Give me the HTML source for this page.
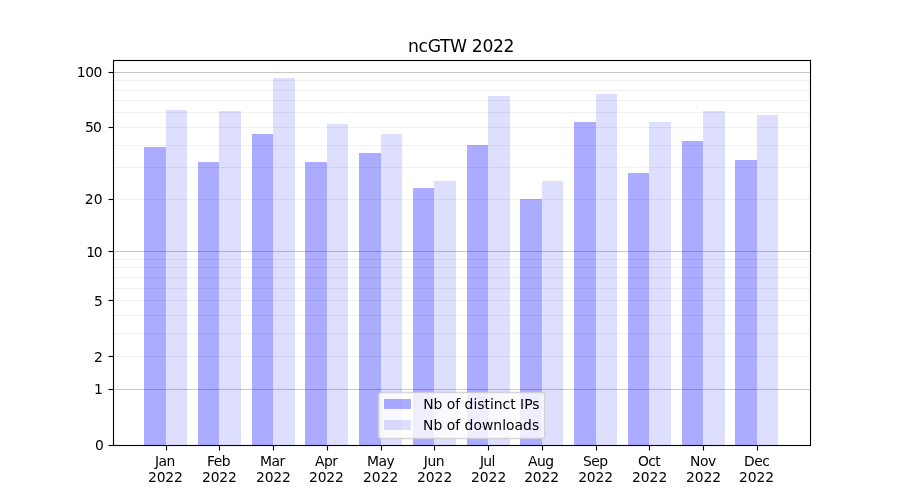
<!DOCTYPE html>
<html lang="en"><head><meta charset="utf-8"><title>ncGTW 2022</title>
<style>html,body{margin:0;padding:0;background:#fff}body{width:900px;height:500px;overflow:hidden}svg{display:block}text{font-family:'DejaVu Sans', 'Liberation Sans', sans-serif;fill:#000}</style></head><body>
<svg width="900" height="500" viewBox="0 0 900 500">
<rect x="0" y="0" width="900" height="500" fill="#ffffff"/>
<g shape-rendering="crispEdges">
<g fill="#0000ff" fill-opacity="0.33">
<rect x="144" y="147" width="22" height="298"/>
<rect x="198" y="162" width="21" height="283"/>
<rect x="252" y="134" width="21" height="311"/>
<rect x="305" y="162" width="22" height="283"/>
<rect x="359" y="153" width="22" height="292"/>
<rect x="413" y="188" width="21" height="257"/>
<rect x="467" y="145" width="21" height="300"/>
<rect x="520" y="199" width="22" height="246"/>
<rect x="574" y="122" width="22" height="323"/>
<rect x="628" y="173" width="21" height="272"/>
<rect x="682" y="141" width="21" height="304"/>
<rect x="735" y="160" width="22" height="285"/>
</g>
<g fill="#0000ff" fill-opacity="0.13">
<rect x="166" y="110" width="21" height="335"/>
<rect x="219" y="111" width="22" height="334"/>
<rect x="273" y="78" width="22" height="367"/>
<rect x="327" y="124" width="21" height="321"/>
<rect x="381" y="134" width="21" height="311"/>
<rect x="434" y="181" width="22" height="264"/>
<rect x="488" y="96" width="22" height="349"/>
<rect x="542" y="181" width="21" height="264"/>
<rect x="596" y="94" width="21" height="351"/>
<rect x="649" y="122" width="22" height="323"/>
<rect x="703" y="111" width="22" height="334"/>
<rect x="757" y="115" width="21" height="330"/>
</g>
<g fill="#000000">
<rect x="113" y="389" width="697" height="1" fill-opacity="0.212"/>
<rect x="113" y="251" width="697" height="1" fill-opacity="0.212"/>
<rect x="113" y="72" width="697" height="1" fill-opacity="0.212"/>
<rect x="113" y="356" width="697" height="1" fill-opacity="0.055"/>
<rect x="113" y="333" width="697" height="1" fill-opacity="0.055"/>
<rect x="113" y="315" width="697" height="1" fill-opacity="0.055"/>
<rect x="113" y="300" width="697" height="1" fill-opacity="0.055"/>
<rect x="113" y="288" width="697" height="1" fill-opacity="0.055"/>
<rect x="113" y="277" width="697" height="1" fill-opacity="0.055"/>
<rect x="113" y="267" width="697" height="1" fill-opacity="0.055"/>
<rect x="113" y="259" width="697" height="1" fill-opacity="0.055"/>
<rect x="113" y="199" width="697" height="1" fill-opacity="0.055"/>
<rect x="113" y="167" width="697" height="1" fill-opacity="0.055"/>
<rect x="113" y="145" width="697" height="1" fill-opacity="0.055"/>
<rect x="113" y="127" width="697" height="1" fill-opacity="0.055"/>
<rect x="113" y="112" width="697" height="1" fill-opacity="0.055"/>
<rect x="113" y="100" width="697" height="1" fill-opacity="0.055"/>
<rect x="113" y="90" width="697" height="1" fill-opacity="0.055"/>
<rect x="113" y="80" width="697" height="1" fill-opacity="0.055"/>
</g>
</g>
<g stroke="#000000" stroke-width="1.111" fill="none">
<line x1="166.5" y1="445.5" x2="166.5" y2="450.5"/>
<line x1="219.5" y1="445.5" x2="219.5" y2="450.5"/>
<line x1="273.5" y1="445.5" x2="273.5" y2="450.5"/>
<line x1="327.5" y1="445.5" x2="327.5" y2="450.5"/>
<line x1="381.5" y1="445.5" x2="381.5" y2="450.5"/>
<line x1="434.5" y1="445.5" x2="434.5" y2="450.5"/>
<line x1="488.5" y1="445.5" x2="488.5" y2="450.5"/>
<line x1="542.5" y1="445.5" x2="542.5" y2="450.5"/>
<line x1="596.5" y1="445.5" x2="596.5" y2="450.5"/>
<line x1="649.5" y1="445.5" x2="649.5" y2="450.5"/>
<line x1="703.5" y1="445.5" x2="703.5" y2="450.5"/>
<line x1="757.5" y1="445.5" x2="757.5" y2="450.5"/>
<line x1="108.5" y1="445.5" x2="113.5" y2="445.5"/>
<line x1="108.5" y1="389.5" x2="113.5" y2="389.5"/>
<line x1="108.5" y1="356.5" x2="113.5" y2="356.5"/>
<line x1="108.5" y1="300.5" x2="113.5" y2="300.5"/>
<line x1="108.5" y1="251.5" x2="113.5" y2="251.5"/>
<line x1="108.5" y1="199.5" x2="113.5" y2="199.5"/>
<line x1="108.5" y1="127.5" x2="113.5" y2="127.5"/>
<line x1="108.5" y1="72.5" x2="113.5" y2="72.5"/>
<rect x="113.5" y="60.5" width="697" height="385" stroke-linejoin="miter"/>
</g>
<g font-size="13.889px">
<g text-anchor="middle">
<text x="165.2" y="466.28" textLength="20.39" lengthAdjust="spacing">Jan</text><text x="165.45" y="481.83" textLength="34.81" lengthAdjust="spacing">2022</text>
<text x="218.69" y="466.28" textLength="23.58" lengthAdjust="spacing">Feb</text><text x="219.44" y="481.83" textLength="34.81" lengthAdjust="spacing">2022</text>
<text x="272.67" y="466.28" textLength="25.19" lengthAdjust="spacing">Mar</text><text x="273.42" y="481.83" textLength="34.81" lengthAdjust="spacing">2022</text>
<text x="326.41" y="466.28" textLength="23.02" lengthAdjust="spacing">Apr</text><text x="326.41" y="481.83" textLength="34.81" lengthAdjust="spacing">2022</text>
<text x="380.9" y="466.28" textLength="27.69" lengthAdjust="spacing">May</text><text x="380.65" y="481.83">2022</text>
<text x="434.13" y="466.28" textLength="20.69" lengthAdjust="spacing">Jun</text><text x="434.63" y="481.83">2022</text>
<text x="487.62" y="466.28" textLength="15.25" lengthAdjust="spacing">Jul</text><text x="488.62" y="481.83">2022</text>
<text x="541.1" y="466.28" textLength="26.09" lengthAdjust="spacing">Aug</text><text x="541.6" y="481.83" textLength="34.81" lengthAdjust="spacing">2022</text>
<text x="595.59" y="466.28" textLength="25.16" lengthAdjust="spacing">Sep</text><text x="595.59" y="481.83" textLength="34.81" lengthAdjust="spacing">2022</text>
<text x="649.33" y="466.28" textLength="22.50" lengthAdjust="spacing">Oct</text><text x="649.58" y="481.83">2022</text>
<text x="703.06" y="466.28" textLength="26.09" lengthAdjust="spacing">Nov</text><text x="703.56" y="481.83">2022</text>
<text x="757.05" y="466.28" textLength="25.86" lengthAdjust="spacing">Dec</text><text x="756.55" y="481.83">2022</text>
</g>
<g text-anchor="end">
<text x="103.78" y="450">0</text>
<text x="102.78" y="394">1</text>
<text x="102.78" y="362">2</text>
<text x="102.78" y="306">5</text>
<text x="102.53" y="257" textLength="16.16" lengthAdjust="spacing">10</text>
<text x="102.53" y="204">20</text>
<text x="101.78" y="132" textLength="16.66" lengthAdjust="spacing">50</text>
<text x="102.28" y="77" textLength="25.48" lengthAdjust="spacing">100</text>
</g>
</g>
<text x="461.25" y="52" font-size="17.2px" text-anchor="middle" textLength="106.36" lengthAdjust="spacing">ncGTW 2022</text>
<path d="M 381.28 438.50 L 541.72 438.50 Q 544.50 438.50 544.50 435.72 L 544.50 395.28 Q 544.50 392.50 541.72 392.50 L 381.28 392.50 Q 378.50 392.50 378.50 395.28 L 378.50 435.72 Q 378.50 438.50 381.28 438.50 Z" fill="#ffffff" stroke="#cccccc" stroke-width="1.389" fill-opacity="0.8" stroke-opacity="0.8"/>
<g fill="#0000ff" shape-rendering="crispEdges">
<rect x="384" y="399" width="27" height="10" fill-opacity="0.33"/>
<rect x="384" y="420" width="27" height="10" fill-opacity="0.13"/>
</g>
<g font-size="13.889px">
<text x="423.24" y="409.23">Nb of distinct IPs</text>
<text x="422.99" y="429.61" textLength="116.20" lengthAdjust="spacing">Nb of downloads</text>
</g>
</svg></body></html>
